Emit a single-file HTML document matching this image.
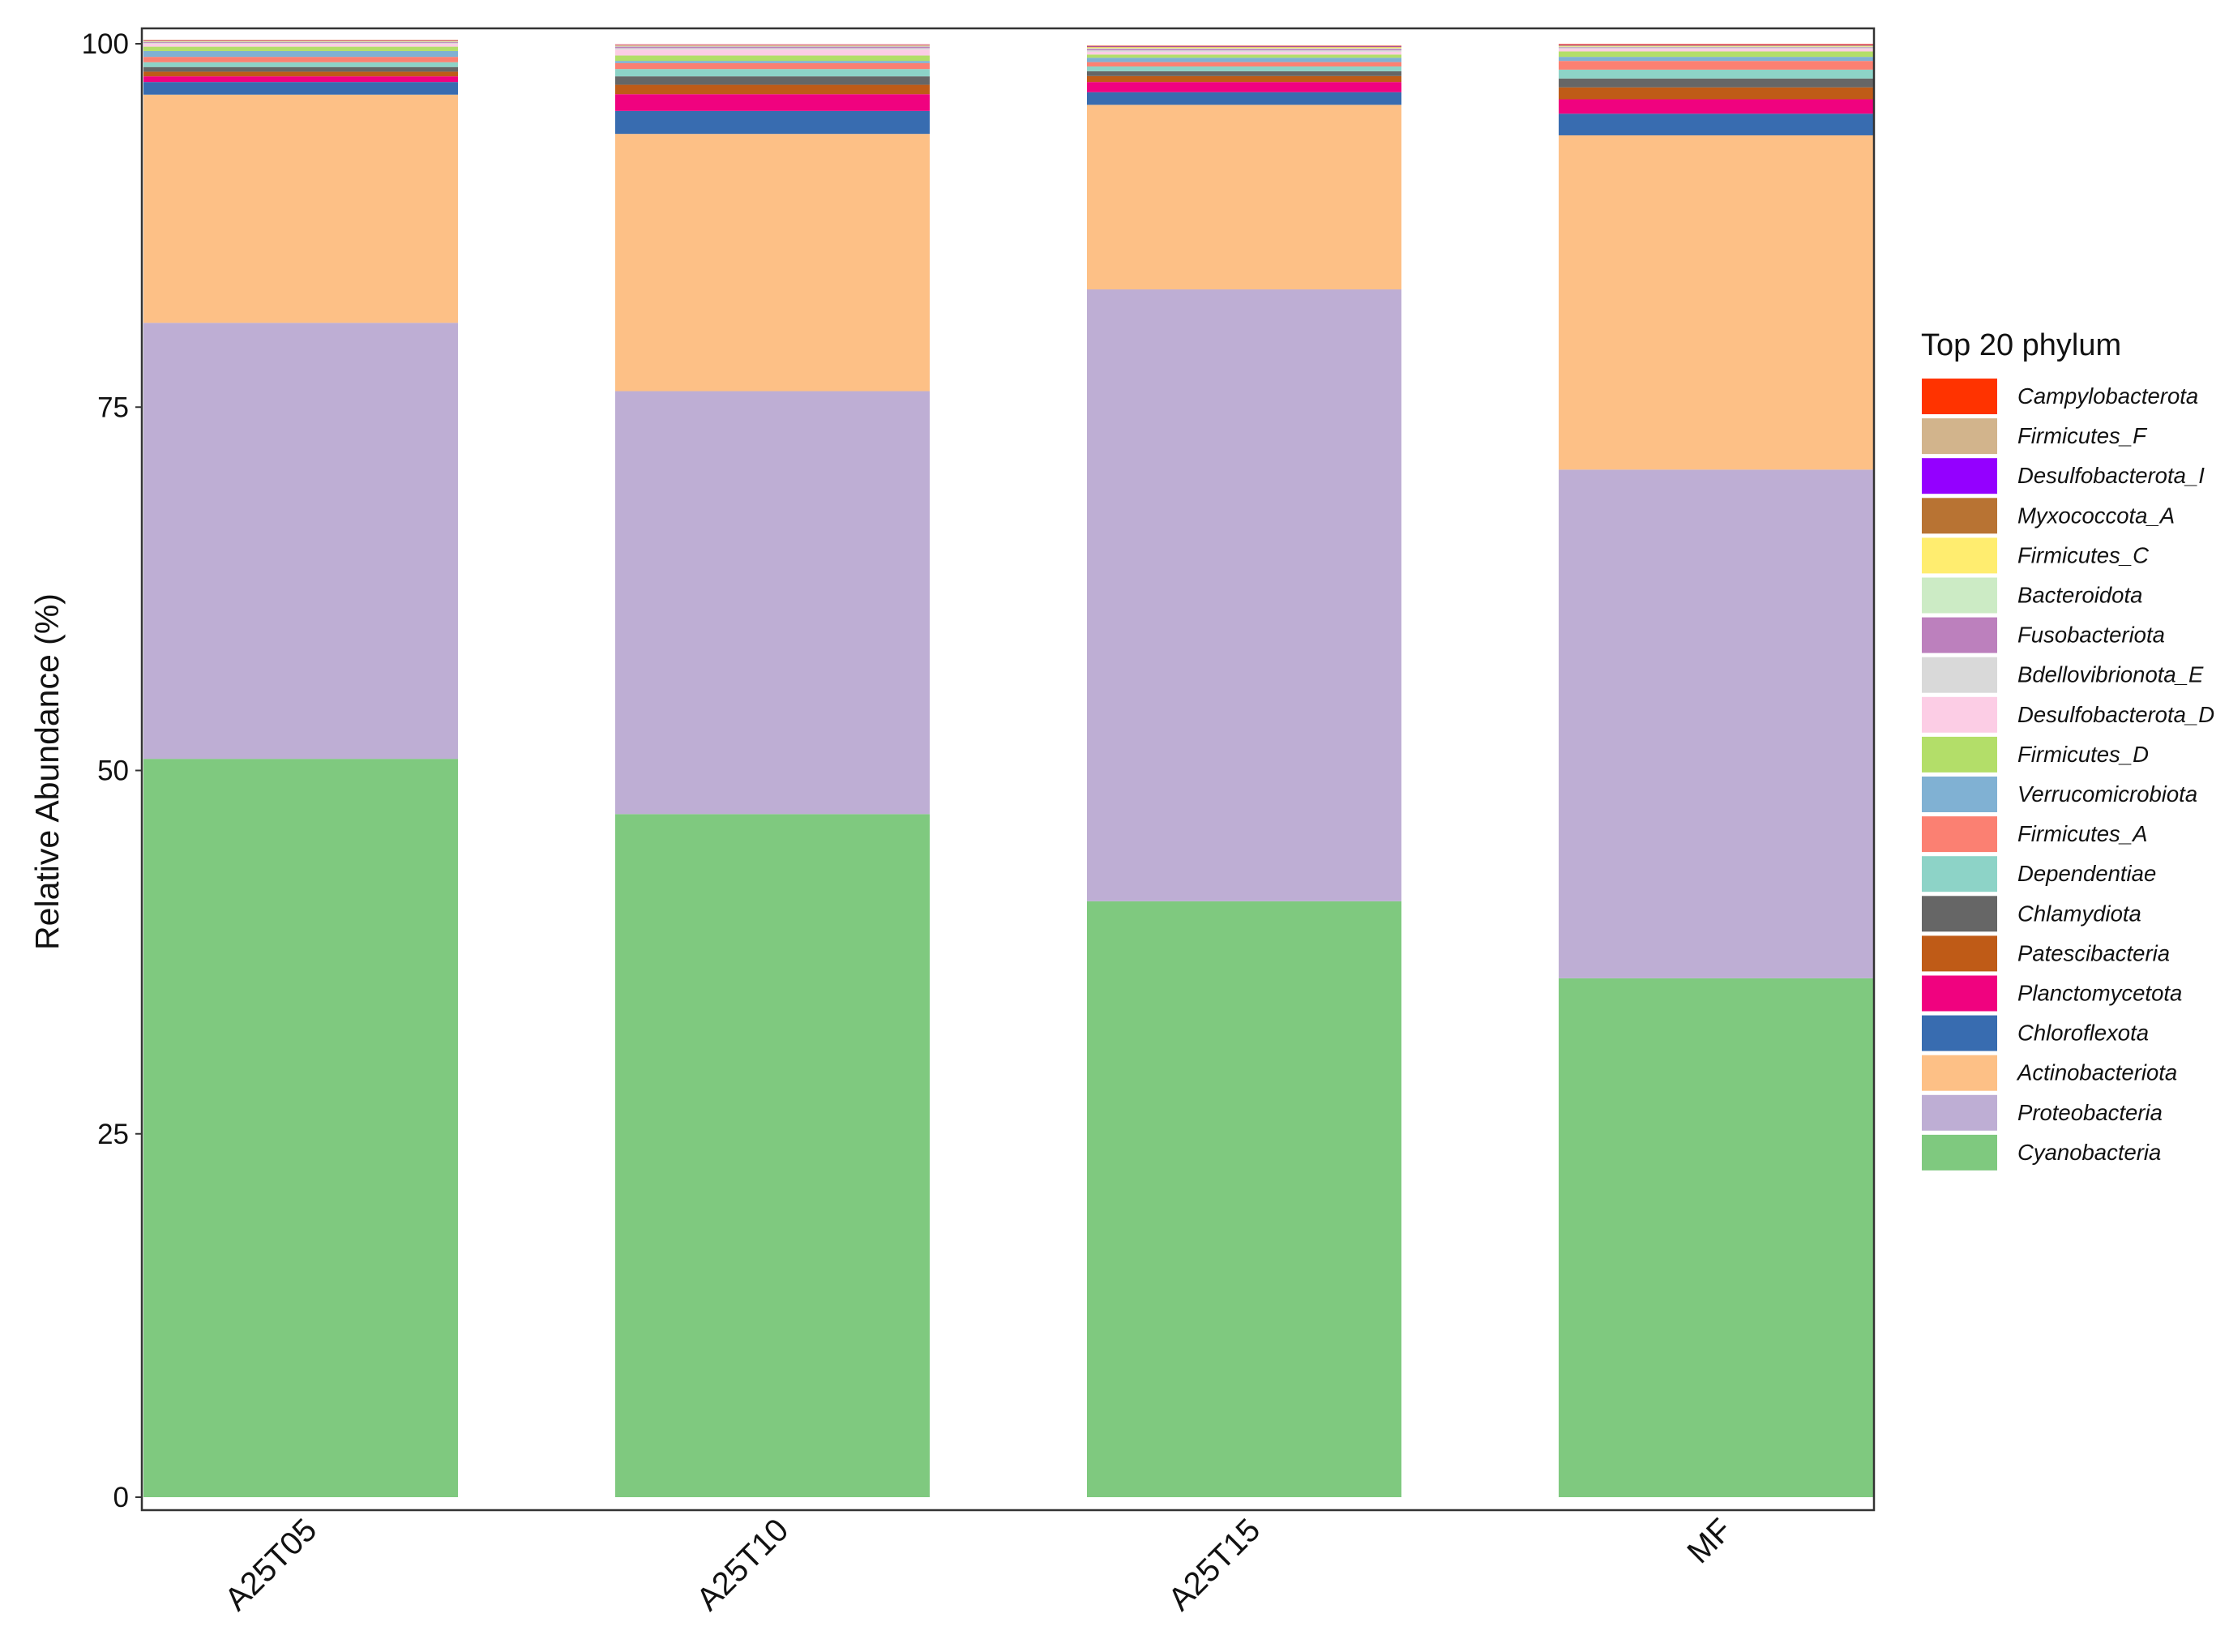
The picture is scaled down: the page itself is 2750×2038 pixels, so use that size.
<!DOCTYPE html>
<html><head><meta charset="utf-8"><style>
body{margin:0;background:#fff;}
svg{display:block;font-family:"Liberation Sans",Arial,sans-serif;}
</style></head><body>
<svg id="chart" width="2750" height="2038" viewBox="0 0 2750 2038"></svg>
<script>
const samples = ["A25T05","A25T10","A25T15","MF"];
const phyla = ["Cyanobacteria","Proteobacteria","Actinobacteriota","Chloroflexota","Planctomycetota","Patescibacteria","Chlamydiota","Dependentiae","Firmicutes_A","Verrucomicrobiota","Firmicutes_D","Desulfobacterota_D","Bdellovibrionota_E","Fusobacteriota","Bacteroidota","Firmicutes_C","Myxococcota_A","Desulfobacterota_I","Firmicutes_F","Campylobacterota"];
const colors = ["#7fc97f","#beaed4","#fdc086","#386cb0","#f0027f","#bf5b17","#666666","#8dd3c7","#fb8072","#80b1d3","#b3de69","#fccde5","#d9d9d9","#bc80bd","#ccebc5","#ffed6f","#b87333","#9400ff","#d2b48c","#ff3300"];
const valA25T05 = [50.8,30.0,15.7,0.87,0.39,0.32,0.32,0.33,0.37,0.40,0.30,0.20,0.06,0.05,0.04,0.03,0.03,0.02,0.02,0.02];
const valA25T10 = [47.0,29.1,17.7,1.58,1.15,0.65,0.58,0.50,0.41,0.15,0.37,0.41,0.10,0.10,0.04,0.03,0.03,0.02,0.02,0.02];
const valA25T15 = [41.0,42.1,12.7,0.87,0.70,0.41,0.33,0.33,0.30,0.30,0.22,0.19,0.10,0.10,0.05,0.06,0.05,0.03,0.03,0.02];
const valMF = [35.7,35.0,23.0,1.49,0.99,0.82,0.61,0.61,0.60,0.28,0.37,0.19,0.05,0.05,0.05,0.04,0.05,0.03,0.03,0.04];
const seriesValues = [valA25T05,valA25T10,valA25T15,valMF];
const yTicks = [0,25,50,75,100];

const NS="http://www.w3.org/2000/svg";
const svg=document.getElementById('chart');
function mk(tag,attrs,parent){const e=document.createElementNS(NS,tag);for(const k in attrs)e.setAttribute(k,attrs[k]);(parent||svg).appendChild(e);return e;}
const L=175,R=2312,T=35,B=1863;
const y0=1847,y100=54;
function yScale(v){return y0-(y0-y100)*v/100;}
const barW=388, step=582, x0=177;
function xBar(i){return x0+step*i;}

samples.forEach((s,i)=>{
  const g=mk('g',{});
  
  
  let cum=0;
  const x=xBar(i);
  seriesValues[i].forEach((v,j)=>{
    const r=mk('rect',{x:x,y:yScale(cum+v),width:barW,height:yScale(cum)-yScale(cum+v),fill:colors[j]},g);
    
    
    cum+=v;
  });
  const tx=x+barW/2+22, ty=1890;
  const t=mk('text',{x:tx,y:ty,'font-size':40,'text-anchor':'end',transform:`rotate(-45 ${tx} ${ty})`,fill:'#111'});
  t.textContent=s;
  
  
});
const frame=mk('rect',{x:L,y:T,width:R-L,height:B-T,fill:'none',stroke:'#333','stroke-width':2.5});


yTicks.forEach(v=>{
  const y=yScale(v);
  mk('line',{x1:L-8,x2:L,y1:y,y2:y,stroke:'#333','stroke-width':2});
  const t=mk('text',{x:L-16,y:y+12,'font-size':35,'text-anchor':'end',fill:'#111'});
  t.textContent=v;
  
  
});
const yt=mk('text',{x:72,y:952,'font-size':41,'text-anchor':'middle',transform:'rotate(-90 72 952)',fill:'#111'});
yt.textContent='Relative Abundance (%)';



const lg=mk('g',{});


const lt=mk('text',{x:2370,y:438,'font-size':38,fill:'#111'},lg);
lt.textContent='Top 20 phylum';


for(let k=0;k<phyla.length;k++){
  const j=phyla.length-1-k;
  const cy=489+k*49.1;
  const e=mk('g',{},lg);
  
  
  mk('rect',{x:2371,y:cy-22,width:93,height:44,fill:colors[j]},e);
  const t=mk('text',{x:2489,y:cy+9,'font-size':27.5,'font-style':'italic',fill:'#111'},e);
  t.textContent=phyla[j];
}
</script>
</body></html>
